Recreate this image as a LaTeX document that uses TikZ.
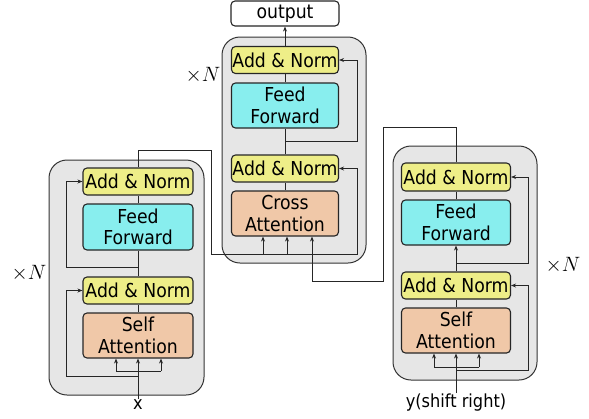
\documentclass[tikz,border=0pt]{standalone}
\usepackage{fontspec}
\setmainfont{DejaVu Sans}[FakeStretch=0.9]
\usetikzlibrary{arrows.meta}

\definecolor{normyellow}{RGB}{238,238,136}
\definecolor{ffcyan}{RGB}{136,238,238}
\definecolor{attnorange}{RGB}{240,200,168}
\definecolor{blockgrey}{RGB}{230,230,230}

\tikzset{
  layer/.style={draw=black!85, line width=1.1pt, rounded corners=4pt, align=center,
    inner sep=0pt, font=\fontsize{19.2}{21.5}\selectfont, minimum width=110pt},
  addnorm/.style={layer, fill=normyellow, minimum height=27pt},
  ffn/.style={layer, fill=ffcyan, minimum height=46pt},
  attn/.style={layer, fill=attnorange, minimum height=45pt},
  outbox/.style={layer, fill=white, minimum height=25pt},
  block/.style={draw=black!80, fill=blockgrey, line width=1pt, rounded corners=18pt},
  io/.style={inner sep=1pt, font=\fontsize{18}{21}\selectfont},
  times/.style={font=\fontsize{20.74}{24}\selectfont},
  conn/.style={line width=0.8pt, draw=black!85},
  tip/.style={conn, -{Stealth[length=5pt,width=4pt]}},
}

\begin{document}
\begin{tikzpicture}[x=1pt,y=-1pt]
  \useasboundingbox (0,0) rectangle (589,418);

  % encoder stack
  \draw[block] (49,160) rectangle (204,395);
  \node[addnorm] (encAN2) at (138,181.5) {Add \& Norm};
  \node[ffn] (encFF) at (138,227) {Feed\\Forward};
  \node[addnorm] (encAN1) at (138,290.5) {Add \& Norm};
  \node[attn] (encSA) at (138,335.5) {Self\\Attention};
  \node[io] (xin) at (138,405) {x};
  \node[times] (encN) at (29,273) {$\times N$};

  % cross attention stack
  \draw[block] (222,37) rectangle (366,263);
  \node[outbox, minimum width=108pt] (out) at (285,13.5) {output};
  \node[addnorm, minimum width=107pt] (crossAN2) at (285,60) {Add \& Norm};
  \node[ffn, minimum width=107pt, minimum height=45pt] (crossFF) at (285,105.5) {Feed\\Forward};
  \node[addnorm, minimum width=107pt] (crossAN1) at (285,168.5) {Add \& Norm};
  \node[attn, minimum width=107pt] (crossCA) at (285,213.5) {Cross\\Attention};
  \node[times] (crossN) at (203,75) {$\times N$};

  % decoder stack
  \draw[block] (393,146) rectangle (537,380);
  \node[addnorm, minimum width=109pt, minimum height=28pt] (decAN2) at (456,177) {Add \& Norm};
  \node[ffn, minimum width=109pt, minimum height=45pt] (decFF) at (456,222.5) {Feed\\Forward};
  \node[addnorm, minimum width=109pt] (decAN1) at (456,285.5) {Add \& Norm};
  \node[attn, minimum width=109pt] (decSA) at (456,330.5) {Self\\Attention};
  \node[io] (yin) at (456,403) {y(shift right)};
  \node[times] (decN) at (563,265) {$\times N$};

  % encoder wiring
  \coordinate (encIn) at (138,376);
  \coordinate (encQ) at (116,371);
  \coordinate (encV) at (161,371);
  \coordinate (encMid) at (138,267);
  \draw[tip] (xin) -- (encSA);
  \draw[conn] (encQ) -- (encV);
  \draw[tip] (encQ) -- (encQ |- encSA.south);
  \draw[tip] (encV) -- (encV |- encSA.south);
  \draw[tip] (encIn) -- ++(-72,0) |- (encAN1.west);
  \draw[conn] (encSA) -- (encAN1);
  \draw[conn] (encAN1) -- (encFF);
  \draw[tip] (encMid) -- ++(-72,0) |- (encAN2.west);
  \draw[conn] (encFF) -- (encAN2);

  % encoder output into cross attention
  \coordinate (memL) at (211,254);
  \coordinate (memK) at (263,254);
  \coordinate (memV) at (287,254);
  \coordinate (crossRes) at (357,254);
  \draw[conn] (encAN2.north) |- (211,150) -- (memL);
  \draw[tip] (memK) -- (memK |- crossCA.south);
  \draw[tip] (memV) -- (memV |- crossCA.south);
  \draw[tip] (memL) -- (crossRes) |- (crossAN1.east);

  % cross attention wiring
  \coordinate (crossMid) at (285,141);
  \draw[conn] (crossCA) -- (crossAN1);
  \draw[conn] (crossAN1) -- (crossFF);
  \draw[tip] (crossMid) -- ++(72,0) |- (crossAN2.east);
  \draw[conn] (crossFF) -- (crossAN2);
  \draw[tip] (crossAN2) -- (out);

  % decoder wiring
  \coordinate (decIn) at (456,370);
  \coordinate (decQ) at (434,367);
  \coordinate (decV) at (479,367);
  \coordinate (decMid) at (456,263);
  \draw[tip] (yin) -- (decSA);
  \draw[conn] (decQ) -- (decV);
  \draw[tip] (decQ) -- (decQ |- decSA.south);
  \draw[tip] (decV) -- (decV |- decSA.south);
  \draw[tip] (decIn) -- ++(72,0) |- (decAN1.east);
  \draw[conn] (decSA) -- (decAN1);
  \draw[tip] (decAN1) -- (decFF);
  \draw[tip] (decMid) -- ++(72,0) |- (decAN2.east);
  \draw[conn] (decFF) -- (decAN2);

  % decoder output into cross attention
  \coordinate (qIn) at (312,281);
  \draw[tip] (decAN2.north) |- (383,127) |- (qIn) -- (qIn |- crossCA.south);
\end{tikzpicture}
\end{document}
